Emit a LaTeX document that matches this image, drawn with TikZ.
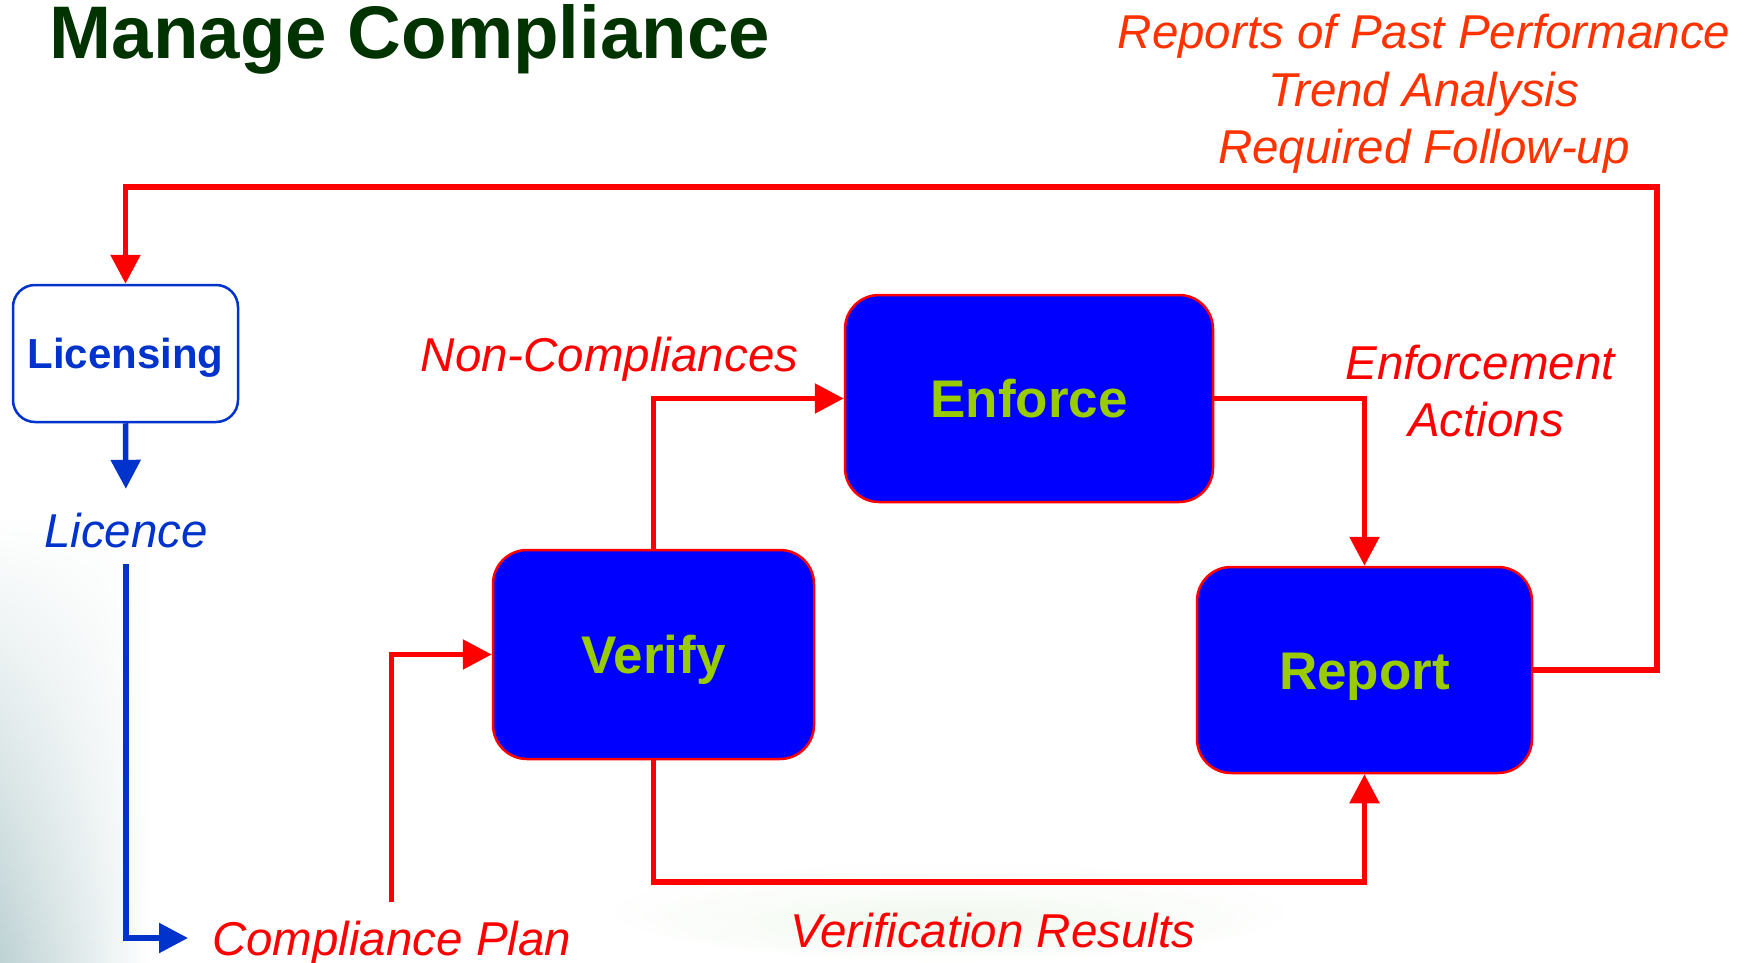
\documentclass[tikz,border=0pt]{standalone}
\usepackage{fontspec}
\setmainfont{Liberation Sans}
\usetikzlibrary{arrows.meta,fadings}
\definecolor{titlegreen}{RGB}{0,51,0}
\definecolor{boxblue}{RGB}{0,0,255}
\definecolor{licblue}{RGB}{0,51,204}
\definecolor{txtgreen}{RGB}{153,204,0}
\definecolor{lred}{RGB}{255,0,0}
\definecolor{orred}{RGB}{255,51,0}
\definecolor{bgslate}{RGB}{190,210,212}
\definecolor{bggreen}{RGB}{230,244,225}
\begin{document}
\begin{tikzpicture}[x=1pt,y=-1pt,
  box/.style={draw=lred, line width=2.5pt, fill=boxblue, rounded corners=34pt,
    text=txtgreen, font=\fontsize{53}{60}\selectfont\bfseries,
    text height=38pt, text depth=0pt, inner sep=0pt},
  licbox/.style={draw=licblue, line width=2.5pt, fill=white, rounded corners=22pt,
    text=licblue, font=\fontsize{42}{50}\selectfont\bfseries,
    text height=30pt, text depth=0pt, inner sep=0pt},
  lbl/.style={font=\fontsize{47.5}{57}\selectfont\itshape, text=lred,
    inner sep=0pt, text height=34pt, text depth=0pt},
  redline/.style={draw=lred, line width=5.5pt},
  blueline/.style={draw=licblue, line width=5.5pt},
  tip/.style={-{Triangle[length=29pt,width=29pt]}}
]
\useasboundingbox (0,0) rectangle (1750,963);
\fill[white] (0,0) rectangle (1750,963);
\shade[left color=bgslate, right color=white, path fading=north] (0,520) rectangle (150,963);
\shade[inner color=bggreen, outer color=white, path fading=north] (600,860) rectangle (1300,963);

% title
\node[font=\fontsize{74.5}{80}\selectfont\bfseries, text=titlegreen, anchor=base, inner sep=0pt]
  (title) at (410,59) {Manage Compliance};

% top-right labels
\node[lbl, text=orred, anchor=base] (rp1) at (1424,49) {Reports of Past Performance};
\node[lbl, text=orred, anchor=base] (rp2) at (1424,107) {Trend Analysis};
\node[lbl, text=orred, anchor=base] (rp3) at (1424,164) {Required Follow-up};

% boxes
\node[licbox, minimum width=225pt, minimum height=137pt] (lic) at (125.5,353.5) {Licensing};
\node[box, minimum width=321pt, minimum height=209pt] (verify) at (653.5,654.5) {Verify};
\node[box, minimum width=368pt, minimum height=207pt] (enforce) at (1029,398.5) {Enforce};
\node[box, minimum width=335pt, minimum height=206pt] (report) at (1364.5,670) {Report};

% labels
\node[lbl, text=licblue, anchor=base] (licence) at (126,547) {Licence};
\node[lbl, anchor=base west] (cplan) at (212,955) {Compliance Plan};
\node[lbl, anchor=base] (noncomp) at (609.5,371) {Non-Compliances};
\node[lbl, anchor=base] (enfact1) at (1480,379) {Enforcement};
\node[lbl, anchor=base] (enfact2) at (1486,436) {Actions};
\node[lbl, anchor=base] (verres) at (993,947) {Verification Results};

% bend coordinates
\coordinate (tr) at (1657,187);
\coordinate (vbot) at (653.5,882);

% connectors
\draw[redline, tip] (report.east) -| (tr) -| (lic.north);
\draw[blueline, tip, shorten >=24pt] (lic.south) -- (licence.north);
\draw[blueline, tip, shorten <=17pt, shorten >=24pt] (licence.south) |- (cplan.west);
\draw[redline, tip, shorten <=19pt] (cplan.north) |- (verify.west);
\draw[redline, tip] (verify.north) |- (enforce.west);
\draw[redline, tip] (enforce.east) -| (report.north);
\draw[redline, tip] (verify.south) -- (vbot) -| (report.south);
\end{tikzpicture}
\end{document}
